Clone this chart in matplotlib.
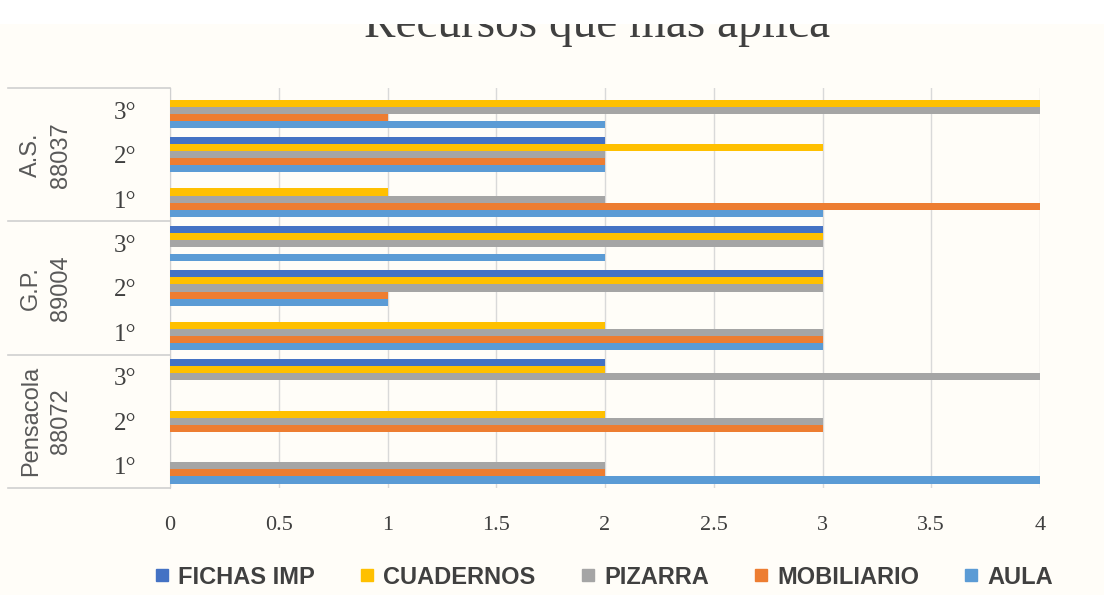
import matplotlib.pyplot as plt
import matplotlib.transforms as mtransforms
from matplotlib.lines import Line2D
from matplotlib.patches import Rectangle
import numpy as np

# categories bottom -> top
groups = ["Pensacola\n88072", "G.P.\n89004", "A.S.\n88037"]
grades = ["1°", "2°", "3°"]

series_names = ["AULA", "MOBILIARIO", "PIZARRA", "CUADERNOS", "FICHAS IMP"]
aula = [4, 0, 0, 3, 1, 2, 3, 2, 2]
mobiliario = [2, 3, 0, 3, 1, 0, 4, 2, 1]
pizarra = [2, 3, 4, 3, 3, 3, 2, 2, 4]
cuadernos = [0, 2, 2, 2, 3, 3, 1, 3, 4]
fichas_imp = [0, 0, 2, 0, 3, 3, 0, 2, 0]
colors = ["#5B9BD5", "#ED7D31", "#A5A5A5", "#FFC000", "#4472C4"]

x_ticks = [0, 0.5, 1, 1.5, 2, 2.5, 3, 3.5, 4]
x_labels = ["0", "0.5", "1", "1.5", "2", "2.5", "3", "3.5", "4"]

SERIF = ["Liberation Serif", "DejaVu Serif"]
NARROW = ["Liberation Sans Narrow", "Liberation Sans", "DejaVu Sans"]

fig = plt.figure(figsize=(11.04, 5.95), dpi=100, facecolor="#fffdf8")
ax = fig.add_axes([170 / 1104, 1 - 488 / 595, 870 / 1104, 400 / 595])
ax.set_facecolor("#fffdf8")

values = [aula, mobiliario, pizarra, cuadernos, fichas_imp]
n_cat = len(aula)
y = np.arange(n_cat)
h = 0.16
for i, (vals, col, name) in enumerate(zip(values, colors, series_names)):
    ax.barh(y + (i - 2) * h, vals, height=h, color=col, label=name, zorder=3)

ax.set_xlim(0, 4)
ax.set_ylim(-0.5, n_cat - 0.5)
ax.set_xticks(x_ticks)
ax.set_xticklabels(x_labels, family=SERIF, fontsize=16, color="#404040")
ax.set_yticks(y)
ax.set_yticklabels(grades * 3, family=SERIF, fontsize=18, color="#404040")
ax.tick_params(axis="both", length=0)
ax.tick_params(axis="x", pad=20)
ax.tick_params(axis="y", pad=24)
ax.grid(axis="x", color="#d9d9d9", linewidth=1, zorder=0)
for s in ["top", "right", "bottom"]:
    ax.spines[s].set_visible(False)
ax.spines["left"].set_color("#d0d0d0")

# multi-level category boxes
trans = mtransforms.blended_transform_factory(ax.transAxes, ax.transData)
x_left = (8 - 170) / 870
for b in [-0.5, 2.5, 5.5, 8.5]:
    ax.add_line(Line2D([x_left, 0], [b, b], transform=trans, color="#d0d0d0",
                       linewidth=1.2, clip_on=False))
for gi, g in enumerate(groups):
    ax.text((46 - 170) / 870, gi * 3 + 1, g, transform=trans, rotation=90,
            ha="center", va="center", fontsize=17, color="#595959",
            family=NARROW, linespacing=1.45)

# title, cut at the top like the source image
fig.text(0.541, 1 - 37 / 595, "Recursos que más aplica", family=SERIF,
         fontsize=34, color="#404040", ha="center", va="baseline")
fig.patches.append(Rectangle((0, 1 - 24 / 595), 1, 24 / 595, transform=fig.transFigure,
                             facecolor="white", edgecolor="none", zorder=10))

handles = [Line2D([0], [0], marker="s", linestyle="none", markersize=9,
                  markerfacecolor=c, markeredgecolor=c, label=n)
           for n, c in zip(series_names[::-1], colors[::-1])]
fig.legend(handles=handles, loc="center", bbox_to_anchor=(0.546, 0.03),
           ncol=5, frameon=False, prop={"family": NARROW, "size": 17, "weight": "bold"},
           handlelength=0.8, handletextpad=0.3, columnspacing=1.8,
           labelcolor="#404040")

fig.savefig("out.png", dpi=100, facecolor=fig.get_facecolor())
